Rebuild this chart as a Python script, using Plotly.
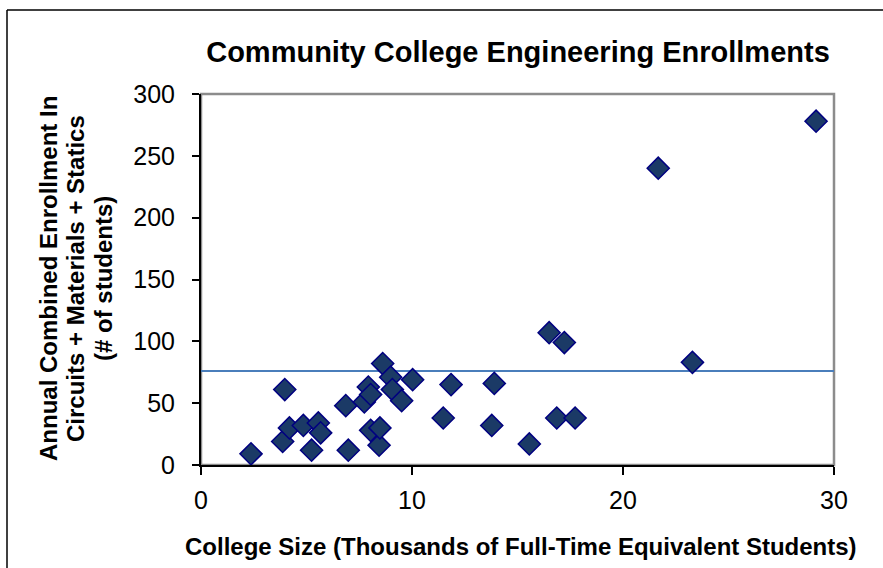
import plotly.graph_objects as go

# ---- data ----
college_size = [2.37, 3.87, 3.97, 4.19, 4.85, 5.24, 5.56, 5.67, 6.86, 6.98, 7.74,
                7.93, 8.04, 8.04, 8.44, 8.48, 8.61, 8.99, 9.07, 9.51, 10.03, 11.48,
                11.85, 13.78, 13.90, 15.56, 16.50, 16.86, 17.22, 17.73, 21.67, 23.29, 29.15]
enrollment = [9, 19, 61, 30, 32, 12, 34, 26, 48, 12, 51,
              63, 57, 28, 16, 30, 82, 71, 61, 52, 69, 38,
              65, 32, 66, 17, 107, 38, 99, 38, 240, 83, 278]
reference_level = 76
x_range = [0, 30]
y_range = [0, 300]
x_ticks = [0, 10, 20, 30]
y_ticks = [0, 50, 100, 150, 200, 250, 300]
title_text = "Community College Engineering Enrollments"
x_title = "College Size (Thousands of Full-Time Equivalent Students)"
y_title_lines = ["Annual Combined Enrollment In",
                 "Circuits + Materials + Statics",
                 "(# of students)"]

FONT = "Liberation Sans, Arial, sans-serif"

# body margin is removed by the post script, so the figure fills the window exactly
W, H = 883, 568
PL, PR, PT, PB = 201, 834, 94, 465  # plot area in pixel coords
PW, PH = PR - PL, PB - PT


def px(x):
    return (x - PL) / PW


def py(y):
    return (PB - y) / PH


fig = go.Figure()

fig.add_trace(go.Scatter(
    x=x_range, y=[reference_level, reference_level],
    mode="lines", line=dict(color="#4A7EBB", width=2),
    hoverinfo="skip", showlegend=False))

fig.add_trace(go.Scatter(
    x=college_size, y=enrollment, mode="markers",
    marker=dict(symbol="diamond", size=17, color="#1B3A66",
                line=dict(color="#000080", width=1.5)),
    showlegend=False))

y_title_x = [48, 75, 103]
annotations = [
    dict(text="<b>" + x_title + "</b>",
         xref="paper", yref="paper", x=px(521), y=py(546),
         xanchor="center", yanchor="middle", showarrow=False,
         font=dict(size=24, family=FONT, color="black")),
]
for line, xpos in zip(y_title_lines, y_title_x):
    annotations.append(dict(
        text="<b>" + line + "</b>", xref="paper", yref="paper",
        x=px(xpos), y=py(279), xanchor="center", yanchor="middle",
        showarrow=False, textangle=-90,
        font=dict(size=24, family=FONT, color="black")))

fig.update_layout(
    width=W, height=H,
    margin=dict(l=PL, r=W - PR, t=PT, b=H - PB),
    paper_bgcolor="white", plot_bgcolor="white",
    font=dict(family=FONT, color="black"),
    title=dict(text="<b>" + title_text + "</b>",
               x=518 / W, xanchor="center", y=1 - 52 / H, yanchor="middle",
               font=dict(size=29, family=FONT, color="black")),
    xaxis=dict(range=x_range, tickvals=x_ticks, showgrid=False, zeroline=False,
               showline=True, linecolor="black", linewidth=2,
               ticks="outside", ticklen=8, tickwidth=1.5, tickcolor="black",
               ticklabelstandoff=4,
               tickfont=dict(size=25, family=FONT), fixedrange=True),
    yaxis=dict(range=y_range, tickvals=y_ticks, showgrid=False, zeroline=False,
               showline=True, linecolor="black", linewidth=2,
               ticks="outside", ticklen=7, tickwidth=1.5, tickcolor="black",
               ticklabelstandoff=12,
               tickfont=dict(size=25, family=FONT), fixedrange=True),
    shapes=[
        # gray plot-area frame (top/right visible; axes drawn over left/bottom)
        dict(type="rect", xref="paper", yref="paper", x0=0, x1=1, y0=0, y1=1,
             line=dict(color="#8C8C8C", width=2.5), layer="below"),
        # outer chart border: only the left and top edges are in view
        dict(type="line", xref="paper", yref="paper",
             x0=px(7), x1=px(7), y0=py(H), y1=py(10),
             line=dict(color="black", width=1.5), layer="below"),
        dict(type="line", xref="paper", yref="paper",
             x0=px(7), x1=px(W), y0=py(10), y1=py(10),
             line=dict(color="black", width=1.5), layer="below"),
    ],
    annotations=annotations,
)

fig.write_html(
    "out.html",
    config={"displayModeBar": False},
    post_script="document.body.style.margin='0';document.body.style.overflow='hidden';",
)
